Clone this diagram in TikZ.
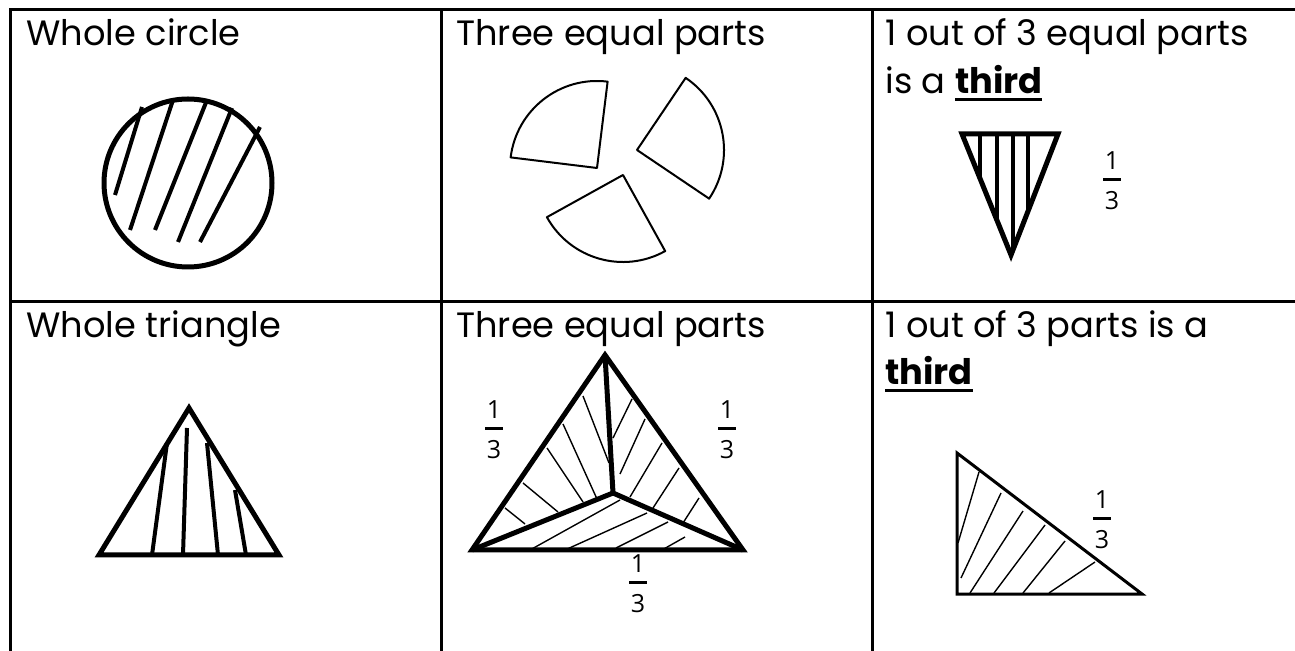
\documentclass[tikz,border=0pt]{standalone}
\usepackage{fontspec}
\setmainfont{Poppins}
\newfontfamily\fracfont{Open Sans}
\usetikzlibrary{positioning}

% thick underline for the bold word
\newcommand{\thickul}[1]{\setbox0\hbox{#1}\rlap{\rule[-0.2em]{\wd0}{0.1em}}\box0}
% stacked one third
\newcommand{\onethird}{\vbox{\offinterlineskip\halign{\hbox to 9pt{\hfil##\hfil}\cr
  1\cr\noalign{\kern4pt\hrule height 1.5pt\kern5.5pt}3\cr}}}

\tikzset{
  tableline/.style={line width=1.5pt},
  heading/.style={anchor=base west, inner sep=0pt, font=\fontsize{17.6}{20}\selectfont},
  fracnode/.style={inner sep=0pt, font=\fracfont\fontsize{12.5}{13}\selectfont},
  boldshape/.style={line width=2.5pt, line join=miter},
  boldhatch/.style={line width=2pt},
  thinshape/.style={line width=1pt, line join=round},
  thinhatch/.style={line width=0.7pt}
}

\begin{document}
\begin{tikzpicture}[x=0.5pt, y=-0.5pt]
  \useasboundingbox (0,0) rectangle (1295,651);
  \clip (0,0) rectangle (1295,651);

  % Table rules
  \draw[tableline] (10,651) -- (10,10) -- (1300,10);
  \draw[tableline] (10,302) -- (1300,302);
  \draw[tableline] (441,10) -- (441,651);
  \draw[tableline] (872,10) -- (872,651);

  % Cell headings
  \node[heading] (circletitle) at (26,46) {Whole circle};
  \node[heading] (partstitle) at (456,46) {Three equal parts};
  \node[heading] (thirdtitle) at (885,46) {1 out of 3 equal parts};
  \node[heading] (thirdword) at (885,94) {is a \textbf{\thickul{third}}};
  \node[heading] (triangletitle) at (26,338) {Whole triangle};
  \node[heading] (tripartstitle) at (456,338) {Three equal parts};
  \node[heading] (tripiecetitle) at (885,338) {1 out of 3 parts is a};
  \node[heading] (tripieceword) at (885,385) {\textbf{\thickul{third}}};

  % Whole circle
  \draw[boldshape] (188,183) circle[radius=84];
  \draw[boldhatch] (115,195) -- (142,107);
  \draw[boldhatch] (130,230) -- (173,100);
  \draw[boldhatch] (155,230) -- (207,100);
  \draw[boldhatch] (178,242) -- (232,108);
  \draw[boldhatch] (200,242) -- (260,127);

  % Three sectors
  \draw[thinshape] (597,168) -- +(-83:87) arc[start angle=-83, end angle=-173, radius=87] -- cycle;
  \draw[thinshape] (637,150) -- +(-56:87) arc[start angle=-56, end angle=34, radius=87] -- cycle;
  \draw[thinshape] (623,175) -- +(151:87) arc[start angle=151, end angle=61, radius=87] -- cycle;

  % One third of a circle as a wedge
  \begin{scope}
    \clip (962,134) -- (1058,134) -- (1011,255) -- cycle;
    \foreach \x in {980,997,1013,1028}
      \draw[boldhatch] (\x,130) -- (\x,260);
  \end{scope}
  \draw[boldshape] (962,134) -- (1058,134) -- (1011,255) -- cycle;
  \node[fracnode] (circlefrac) at (1112,181) {\onethird};

  % Whole triangle
  \draw[boldshape] (189,408) -- (279,555) -- (99,555) -- cycle;
  \draw[boldhatch] (167,443) -- (152,555);
  \draw[boldhatch] (187,428) -- (183,555);
  \draw[boldhatch] (207,443) -- (218,555);
  \draw[boldhatch] (235,490) -- (246,555);

  % Triangle in three parts
  \coordinate (apex) at (605,355);
  \coordinate (left) at (472,550);
  \coordinate (right) at (743,550);
  \coordinate (centre) at (613,493);
  \draw[thinhatch] (583,396) -- (609,463);
  \draw[thinhatch] (563,424) -- (597,499);
  \draw[thinhatch] (547,448) -- (583,502);
  \draw[thinhatch] (523,483) -- (558,512);
  \draw[thinhatch] (505,508) -- (525,524);
  \draw[thinhatch] (632,399) -- (613,438);
  \draw[thinhatch] (645,419) -- (620,474);
  \draw[thinhatch] (662,443) -- (630,497);
  \draw[thinhatch] (679,468) -- (653,508);
  \draw[thinhatch] (699,498) -- (683,523);
  \draw[thinhatch] (620,500) -- (530,550);
  \draw[thinhatch] (647,513) -- (565,550);
  \draw[thinhatch] (668,522) -- (616,548);
  \draw[thinhatch] (685,537) -- (662,550);
  \draw[boldshape] (apex) -- (right) -- (left) -- cycle;
  \draw[boldshape] (left) -- (centre) -- (right);
  \draw[boldshape] (centre) -- (apex);
  \node[fracnode] (leftfrac) at (494,430) {\onethird};
  \node[fracnode] (rightfrac) at (727,430) {\onethird};
  \node[fracnode] (bottomfrac) at (638,584) {\onethird};

  % One third of the triangle
  \draw[thinhatch] (979,472) -- (958,543);
  \draw[thinhatch] (1001,493) -- (961,578);
  \draw[thinhatch] (1023,511) -- (970,593);
  \draw[thinhatch] (1045,525) -- (994,593);
  \draw[thinhatch] (1065,541) -- (1023,593);
  \draw[thinhatch] (1095,562) -- (1049,593);
  \draw[line width=1.5pt, line join=miter] (957,453) -- (1142,594) -- (957,594) -- cycle;
  \node[fracnode] (piecefrac) at (1102,520) {\onethird};
\end{tikzpicture}
\end{document}
